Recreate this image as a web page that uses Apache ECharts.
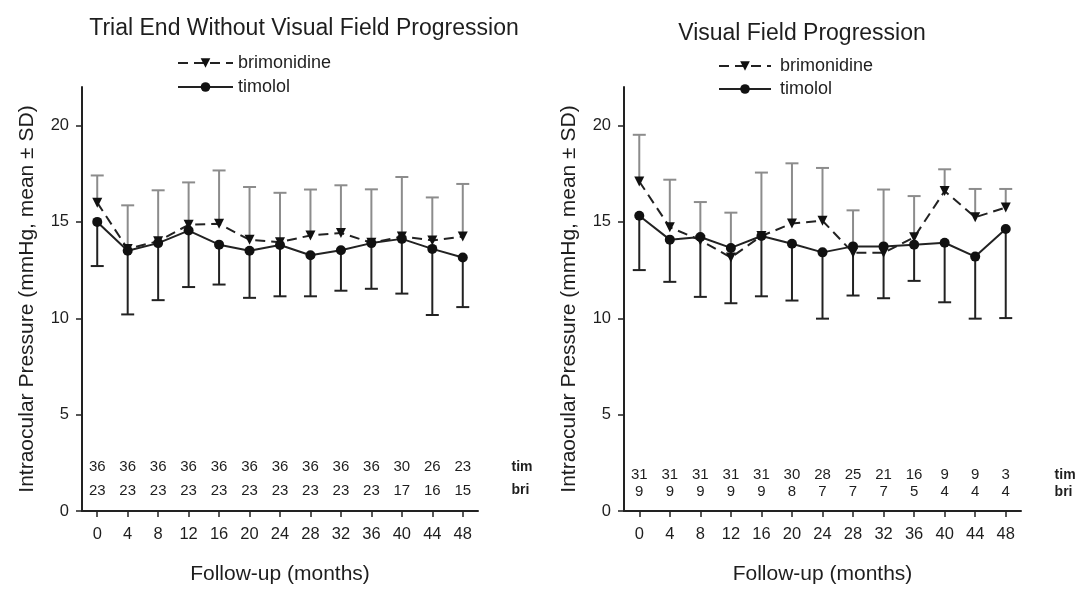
<!DOCTYPE html>
<html><head><meta charset="utf-8">
<script src="https://cdn.jsdelivr.net/npm/echarts@6/dist/echarts.min.js"></script>
<style>html,body{margin:0;padding:0;background:#fff}#c{width:1088px;height:590px}</style>
</head><body><div id="c"></div>
<script>
// ---- data ----
const months = [0,4,8,12,16,20,24,28,32,36,40,44,48];
const yTicks = [0,5,10,15,20];
const seriesNames = ['brimonidine','timolol'];
const rowLabels = ['tim','bri'];

const leftTitle = 'Trial End Without Visual Field Progression';
const leftBrimMean  = [16.0,13.6,14.0,14.85,14.9,14.07,13.95,14.3,14.43,13.92,14.24,14.04,14.24];
const leftTimMean   = [15.0,13.5,13.9,14.55,13.82,13.5,13.8,13.27,13.53,13.9,14.12,13.6,13.15];
const leftBrimUpper = [17.41,15.86,16.64,17.05,17.67,16.81,16.51,16.68,16.9,16.69,17.33,16.27,16.97];
const leftTimLower  = [12.71,10.2,10.94,11.62,11.75,11.06,11.14,11.14,11.43,11.53,11.28,10.17,10.58];
const leftTimN = [36,36,36,36,36,36,36,36,36,36,30,26,23];
const leftBriN = [23,23,23,23,23,23,23,23,23,23,17,16,15];

const rightTitle = 'Visual Field Progression';
const rightBrimMean  = [17.1,14.72,14.05,13.15,14.27,14.92,15.06,13.4,13.4,14.2,16.6,15.24,15.75];
const rightTimMean   = [15.32,14.08,14.22,13.65,14.27,13.87,13.42,13.73,13.73,13.82,13.92,13.2,14.63];
const rightBrimUpper = [19.52,17.19,16.03,15.48,17.56,18.04,17.8,15.6,16.68,16.34,17.73,16.71,16.71];
const rightTimLower  = [12.5,11.89,11.11,10.78,11.14,10.92,9.98,11.18,11.04,11.94,10.83,9.98,10.01];
const rightTimN = [31,31,31,31,31,30,28,25,21,16,9,9,3];
const rightBriN = [9,9,9,9,9,8,7,7,7,5,4,4,4];

// ---- chart ----
const FONT = 'Liberation Sans, Arial, sans-serif';
const TXT = '#1e1e1e';
const DARK = '#222';
const GRAY = '#8c8c8c';

function errRender(color){
  return function(params, api){
    const x = api.value(0), y0 = api.value(1), y1 = api.value(2);
    const p0 = api.coord([x,y0]), p1 = api.coord([x,y1]);
    const hw = 6.5;
    return {type:'group', children:[
      {type:'line', shape:{x1:p0[0],y1:p0[1],x2:p1[0],y2:p1[1]}, style:{stroke:color,lineWidth:2}},
      {type:'line', shape:{x1:p1[0]-hw,y1:p1[1],x2:p1[0]+hw,y2:p1[1]}, style:{stroke:color,lineWidth:2}}
    ]};
  };
}
function textRender(texts, fontSize, weight, align){
  return function(params, api){
    const p = api.coord([api.value(0), api.value(1)]);
    return {type:'text', x:p[0], y:p[1], style:{text:String(texts[params.dataIndex]), fill:TXT,
      font: weight+' '+fontSize+'px '+FONT, align:align, verticalAlign:'middle'}};
  };
}

const grids = [
  {left:82, top:87, width:396, height:430},
  {left:624, top:87, width:397, height:430}
];
function xAxis(i){
  return {gridIndex:i, type:'value', min:-2, max:50,
    axisLine:{show:true, onZero:false, lineStyle:{color:DARK,width:2}},
    axisTick:{show:true, customValues:months, length:6, lineStyle:{color:DARK,width:1.5}},
    axisLabel:{customValues:months, fontSize:16.5, color:TXT, fontFamily:FONT, margin:15},
    splitLine:{show:false},
    name:'Follow-up (months)', nameLocation:'middle', nameGap:53,
    nameTextStyle:{fontSize:21, color:TXT, fontFamily:FONT}};
}
function yAxis(i){
  return {gridIndex:i, type:'value', min:0, max:22,
    axisLine:{show:true, onZero:false, lineStyle:{color:DARK,width:2}},
    axisTick:{show:true, customValues:yTicks, length:6, lineStyle:{color:DARK,width:1.5}},
    axisLabel:{customValues:yTicks, fontSize:16.5, color:TXT, fontFamily:FONT, margin:13},
    splitLine:{show:false},
    name:'Intraocular Pressure (mmHg, mean \u00B1 SD)', nameLocation:'middle', nameGap:44, nameRotate:90,
    nameTextStyle:{fontSize:21, color:TXT, fontFamily:FONT}};
}

function panelSeries(i, brimMean, timMean, brimUpper, timLower, timN, briN, rowY){
  const s = [];
  s.push({type:'custom', xAxisIndex:i, yAxisIndex:i, z:1, silent:true,
    renderItem: errRender(GRAY), data: months.map((m,k)=>[m, brimMean[k], brimUpper[k]])});
  s.push({type:'custom', xAxisIndex:i, yAxisIndex:i, z:1, silent:true,
    renderItem: errRender(DARK), data: months.map((m,k)=>[m, timMean[k], timLower[k]])});
  s.push({type:'line', name:seriesNames[0], xAxisIndex:i, yAxisIndex:i, z:3,
    data: months.map((m,k)=>[m, brimMean[k]]),
    symbol:'triangle', symbolRotate:180, symbolSize:10,
    itemStyle:{color:'#111'}, lineStyle:{color:DARK, width:2, type:[10,6]}, animation:false});
  s.push({type:'line', name:seriesNames[1], xAxisIndex:i, yAxisIndex:i, z:4,
    data: months.map((m,k)=>[m, timMean[k]]),
    symbol:'circle', symbolSize:10,
    itemStyle:{color:'#111'}, lineStyle:{color:DARK, width:2}, animation:false});
  const countTexts = timN.concat(briN);
  s.push({type:'custom', xAxisIndex:i, yAxisIndex:i, z:2, silent:true,
    renderItem: textRender(countTexts, 15,'normal','center'),
    data: months.map(m=>[m, rowY[0]]).concat(months.map(m=>[m, rowY[1]]))});
  s.push({type:'custom', xAxisIndex:i, yAxisIndex:i, z:2, silent:true, clip:false,
    renderItem: textRender(rowLabels, 14,'bold','left'),
    data: [[54.4, rowY[0]], [54.4, rowY[1]]]});
  return s;
}

const chart = echarts.init(document.getElementById('c'), null, {renderer:'canvas'});
chart.setOption({
  animation:false,
  backgroundColor:'#fff',
  title:[
    {text:leftTitle, left:299, top:12, textAlign:'center', textStyle:{fontSize:23, fontWeight:'normal', color:TXT, fontFamily:FONT}},
    {text:rightTitle, left:797, top:17, textAlign:'center', textStyle:{fontSize:23, fontWeight:'normal', color:TXT, fontFamily:FONT}}
  ],
  legend:[
    {left:172, top:49, orient:'vertical', itemWidth:55, itemHeight:12, itemGap:6, data:seriesNames,
     textStyle:{fontSize:18, lineHeight:18, color:TXT, fontFamily:FONT}},
    {left:713, top:52, orient:'vertical', itemWidth:52, itemHeight:12, itemGap:5, data:seriesNames,
     textStyle:{fontSize:18, lineHeight:18, color:TXT, fontFamily:FONT, padding:[0,0,0,4]}}
  ],
  grid:grids,
  xAxis:[xAxis(0), xAxis(1)],
  yAxis:[yAxis(0), yAxis(1)],
  series: panelSeries(0, leftBrimMean, leftTimMean, leftBrimUpper, leftTimLower, leftTimN, leftBriN, [2.28,1.06])
    .concat(panelSeries(1, rightBrimMean, rightTimMean, rightBrimUpper, rightTimLower, rightTimN, rightBriN, [1.88,1.0]))
});
</script>
</body></html>
